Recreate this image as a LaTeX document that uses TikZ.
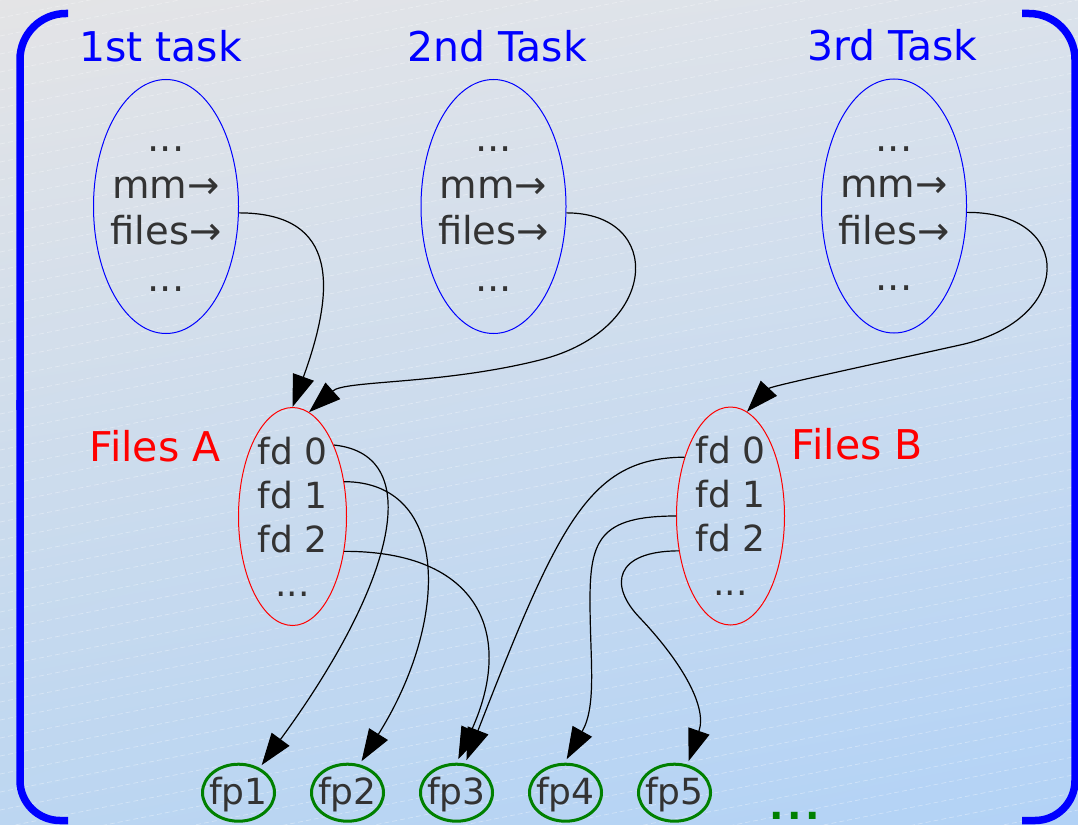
\documentclass[tikz,border=0pt]{standalone}
\usepackage{fontspec}
\setmainfont{DejaVu Sans}
\usetikzlibrary{arrows.meta,calc,shapes.geometric,shadings}

\definecolor{inktext}{HTML}{333333}
\definecolor{taskblue}{RGB}{0,0,255}
\definecolor{tablered}{RGB}{255,0,0}
\definecolor{filegreen}{RGB}{0,128,0}
\definecolor{bgtl}{RGB}{228,228,230}
\definecolor{bgtr}{RGB}{219,226,235}
\definecolor{bgbl}{RGB}{188,214,241}
\definecolor{bgbr}{RGB}{178,210,246}

% task_struct fields and file descriptor tables
\newcommand\taskfields{\begin{tabular}{@{}c@{}}...\\mm→\\files→\\...\end{tabular}}
\newcommand\fdfields{\begin{tabular}{@{}c@{}}fd 0\\fd 1\\fd 2\\...\end{tabular}}

\begin{document}
\begin{tikzpicture}[x=1pt,y=-1pt,
  task/.style={ellipse, draw=taskblue, line width=1pt, minimum width=145pt,
    minimum height=254pt, inner sep=0pt},
  ftable/.style={ellipse, draw=tablered, line width=1pt, minimum width=108pt,
    minimum height=218pt, inner sep=0pt},
  fpnode/.style={ellipse, draw=filegreen, line width=3pt, minimum width=72pt,
    minimum height=57pt, inner sep=0pt, outer sep=5pt},
  tasktext/.style={text=inktext, inner sep=0pt, font=\fontsize{38.5}{46.5}\selectfont},
  fdtext/.style={text=inktext, inner sep=0pt, font=\fontsize{36}{44}\selectfont},
  fptext/.style={text=inktext, inner sep=0pt, font=\fontsize{36}{43}\selectfont},
  title/.style={text=taskblue, anchor=base, inner sep=0pt, font=\fontsize{41}{49}\selectfont},
  tlabel/.style={text=tablered, anchor=base, inner sep=0pt, font=\fontsize{41}{49}\selectfont},
  moredots/.style={text=filegreen, anchor=base, inner sep=0pt, font=\fontsize{38}{40}\selectfont\bfseries},
  link/.style={draw=black, line width=1.2pt, -{Triangle[length=32pt,width=22pt]}},
  bracket/.style={draw=taskblue, line width=7.5pt},
  stripe/.style={draw=white, opacity=0.35, line width=0.7pt, dash pattern=on 5pt off 3pt},
]
\path[use as bounding box] (0,0) rectangle (1078,824);

% background
\shade[upper left=bgtl, upper right=bgtr, lower left=bgbl, lower right=bgbr]
  (0,0) rectangle (1078,824);
\begin{scope}
  \clip (0,0) rectangle (1078,824);
  \foreach \k in {0,...,60}
    \draw[stripe] (0,{\k*18}) -- (1078,{\k*18-216});
\end{scope}

% enclosing brackets
\draw[bracket, rounded corners=46pt] (68,13.5) -| (20,410);
\draw[bracket, rounded corners=40pt] (20,400) |- (68,820.5);
\draw[bracket, rounded corners=46pt] (1022,13.5) -| (1075,410);
\draw[bracket, rounded corners=40pt] (1075,400) |- (1022,820.5);

% tasks
\node[title] (lbl1) at (160.5,62) {1st task};
\node[title] (lbl2) at (497,62) {2nd Task};
\node[title] (lbl3) at (892.5,61) {3rd Task};

\node[task] (t1) at (166,206.5) {};
\node[task] (t2) at (493.5,206.5) {};
\node[task] (t3) at (894,206) {};
\node[tasktext] (t1txt) at ($(t1)+(0,5.75)$) {\taskfields};
\node[tasktext] (t2txt) at ($(t2)+(0,5.75)$) {\taskfields};
\node[tasktext] (t3txt) at ($(t3)+(0,5.75)$) {\taskfields};

% file descriptor tables
\node[ftable] (fa) at (292.5,516.5) {};
\node[ftable] (fb) at (730.5,516) {};
\node[fdtext] (fatxt) at ($(fa)+(0,4.7)$) {\fdfields};
\node[fdtext] (fbtxt) at ($(fb)+(0,4.7)$) {\fdfields};
\node[tlabel] (la) at (155,461) {Files A};
\node[tlabel] (lb) at (857.5,459) {Files B};

% open files
\foreach \i in {1,...,5}
  \node[fpnode, label={[fptext, yshift=-2pt]center:fp\i}] (fp\i)
    at ({238.5+109*(\i-1)},792.7) {};
\node[moredots] (more) at (794.5,819) {.\kern3.5pt.\kern3.5pt.};

% task -> files table
\draw[link] (t1.-5) .. controls (340,213) and (335,290) .. (fa.north);
\draw[link] (t2.-5) .. controls (665,213) and (660,330) .. (540,360)
  .. controls (440,385) and (345,380) .. (fa.81);
\draw[link] (t3.-5) .. controls (1075,212) and (1075,320) .. (960,345)
  .. controls (870,365) and (771,386) .. (fb.81);

% descriptors -> open files
\draw[link] (fa.60) .. controls (430,455) and (390,590) .. (fp1.50);
\draw[link] (fa.34) .. controls (450,482) and (450,620) .. (fp2.66);
\draw[link] (fa.-34) .. controls (480,551) and (515,635) .. (fp3.87);
\draw[link] (fb.128) .. controls (590,458) and (560,520) .. (fp3.73);
\draw[link] (fb.180) .. controls (600,516) and (590,540) .. (590,600)
  .. controls (590,660) and (597,705) .. (fp4.88);
\draw[link] (fb.-146) .. controls (615,551) and (608,585) .. (640,618)
  .. controls (678,658) and (708,705) .. (fp5.66);
\end{tikzpicture}
\end{document}
